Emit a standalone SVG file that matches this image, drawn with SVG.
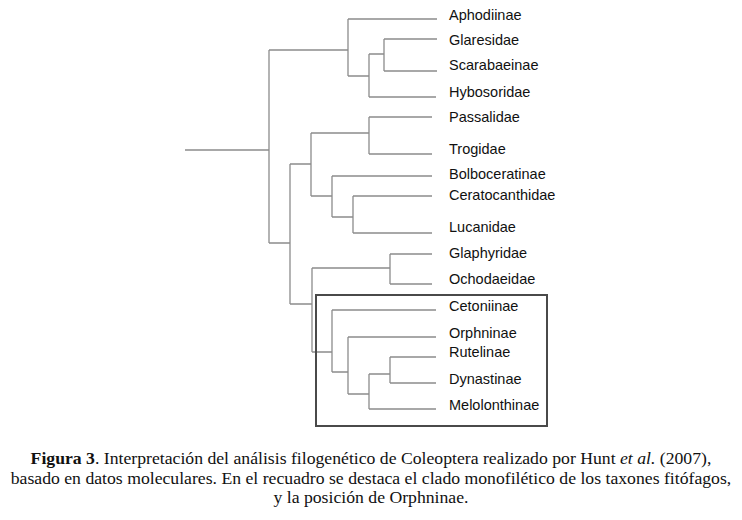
<svg xmlns="http://www.w3.org/2000/svg" width="742" height="520" viewBox="0 0 742 520">
<style>
.e{fill:none;stroke:#8c8c8c;stroke-width:1.3}
.lb{font-family:"Liberation Sans",Arial,sans-serif;font-size:14.5px;fill:#111}
.cap{font-family:"Liberation Serif","Times New Roman",serif;font-size:17.7px;fill:#111}
.box{fill:none;stroke:#4a4a4a;stroke-width:2}
</style>
<rect width="742" height="520" fill="#fff"/>
<g id="connectors">
<path class="e" d="M185,150H269M269,50V243M269,50H348M348,19V76M348,19H437M348,76H369M369,54V97M369,97H436M369,54H384M384,39V71M384,39H437M384,71H437"/>
<path class="e" d="M269,243H290M290,164V304M290,164H311M311,133V196M311,133H369M369,117V154M369,117H432M369,154H432"/>
<path class="e" d="M311,196H332M332,176V217M332,176H432M332,217H353M353,196V233M353,196H432M353,233H432"/>
<path class="e" d="M290,304H312M312,268V352M312,268H390M390,254V284M390,254H432M390,284H432"/>
<path class="e" d="M312,352H332M332,310V372M332,310H436M332,372H348M348,337V394M348,337H436M348,394H369M369,374V409M369,409H436M369,374H390M390,357V383M390,357H436M390,383H436"/>
</g>
<g id="phytophagous-box"><rect class="box" x="316" y="295" width="231" height="131"/></g>
<g id="n-aphodiinae"><text class="lb" x="449" y="20">Aphodiinae</text></g>
<g id="n-glaresidae"><text class="lb" x="449" y="45">Glaresidae</text></g>
<g id="n-scarabaeinae"><text class="lb" x="449" y="70">Scarabaeinae</text></g>
<g id="n-hybosoridae"><text class="lb" x="449" y="97">Hybosoridae</text></g>
<g id="n-passalidae"><text class="lb" x="449" y="122">Passalidae</text></g>
<g id="n-trogidae"><text class="lb" x="449" y="154">Trogidae</text></g>
<g id="n-bolboceratinae"><text class="lb" x="449" y="179">Bolboceratinae</text></g>
<g id="n-ceratocanthidae"><text class="lb" x="449" y="200">Ceratocanthidae</text></g>
<g id="n-lucanidae"><text class="lb" x="449" y="232">Lucanidae</text></g>
<g id="n-glaphyridae"><text class="lb" x="449" y="258">Glaphyridae</text></g>
<g id="n-ochodaeidae"><text class="lb" x="449" y="284">Ochodaeidae</text></g>
<g id="n-cetoniinae"><text class="lb" x="449" y="311">Cetoniinae</text></g>
<g id="n-orphninae"><text class="lb" x="449" y="338">Orphninae</text></g>
<g id="n-rutelinae"><text class="lb" x="449" y="357">Rutelinae</text></g>
<g id="n-dynastinae"><text class="lb" x="449" y="384">Dynastinae</text></g>
<g id="n-melolonthinae"><text class="lb" x="449" y="410">Melolonthinae</text></g>
<g id="caption">
<text class="cap" x="371" y="464" text-anchor="middle"><tspan font-weight="bold">Figura 3</tspan>. Interpretación del análisis filogenético de Coleoptera realizado por Hunt <tspan font-style="italic">et al.</tspan> (2007),</text>
<text class="cap" x="371" y="484" text-anchor="middle">basado en datos moleculares. En el recuadro se destaca el clado monofilético de los taxones fitófagos,</text>
<text class="cap" x="371" y="503" text-anchor="middle">y la posición de Orphninae.</text>
</g>
</svg>
